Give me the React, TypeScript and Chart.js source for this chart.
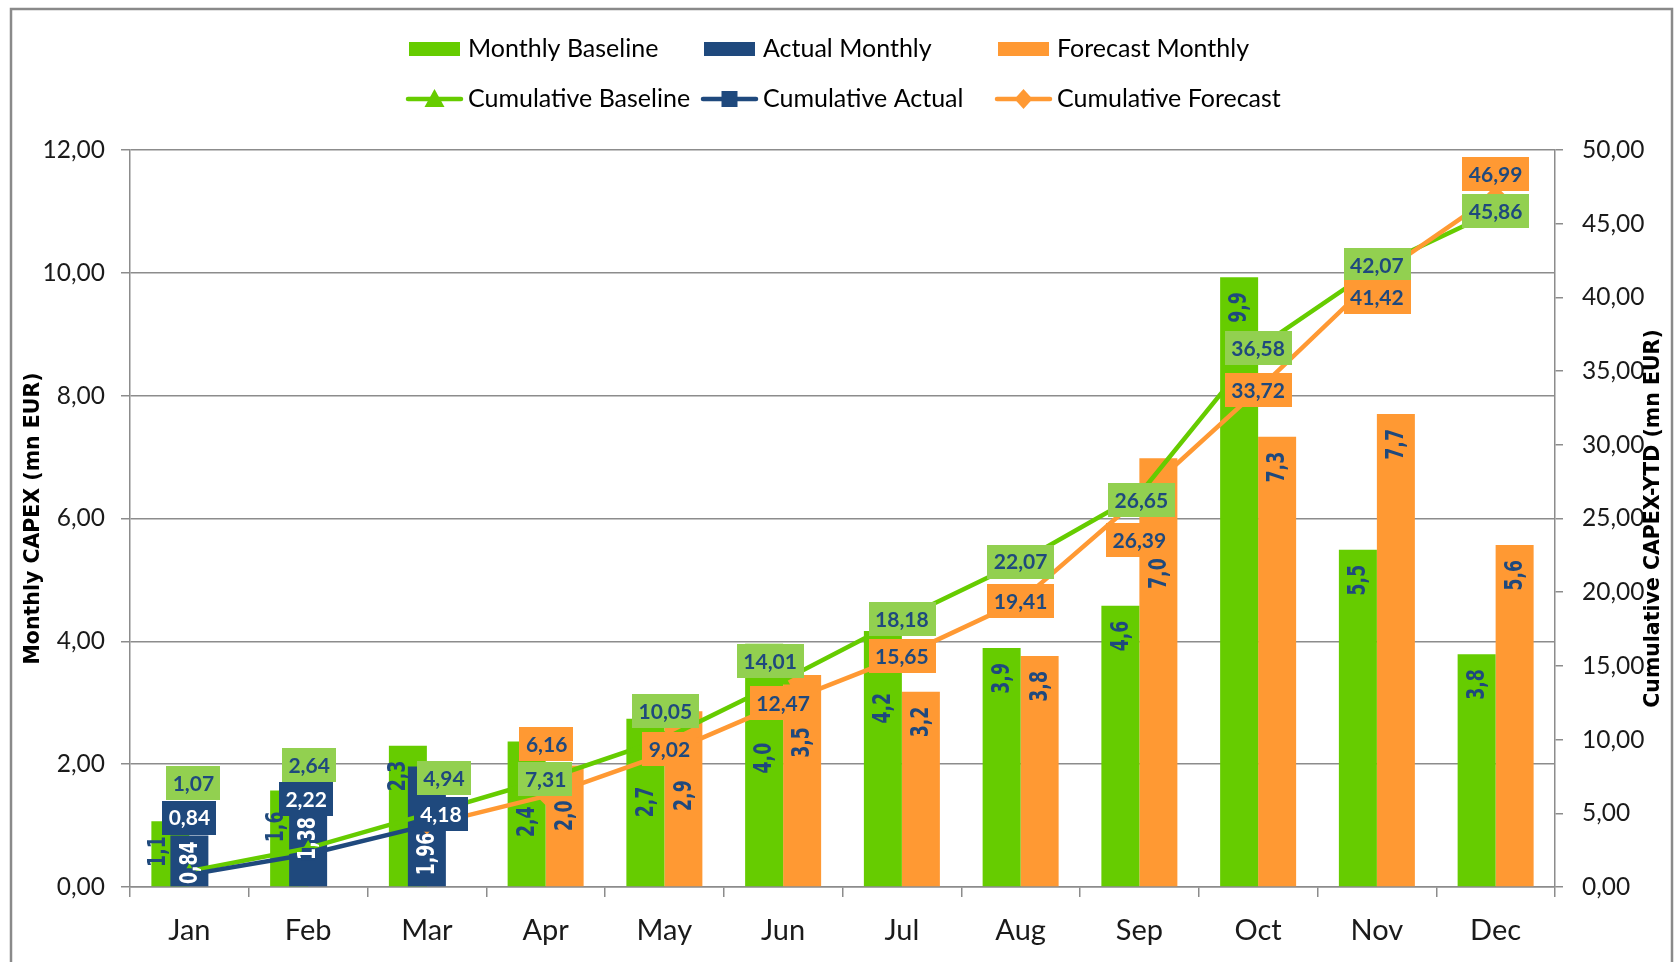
import React, { useEffect, useRef } from 'react';
import { Chart, registerables } from 'chart.js';

Chart.register(...registerables);

// ---------- data ----------
const months = ['Jan', 'Feb', 'Mar', 'Apr', 'May', 'Jun', 'Jul', 'Aug', 'Sep', 'Oct', 'Nov', 'Dec'];
const monthlyBaseline = [1.07, 1.57, 2.3, 2.37, 2.74, 3.96, 4.17, 3.89, 4.58, 9.93, 5.49, 3.79];
const actualMonthly = [0.84, 1.38, 1.96, null, null, null, null, null, null, null, null, null];
const forecastMonthly = [null, null, null, 1.98, 2.86, 3.45, 3.18, 3.76, 6.98, 7.33, 7.7, 5.57];
const cumulativeBaseline = [1.07, 2.64, 4.94, 7.31, 10.05, 14.01, 18.18, 22.07, 26.65, 36.58, 42.07, 45.86];
const cumulativeActual = [0.84, 2.22, 4.18, null, null, null, null, null, null, null, null, null];
const cumulativeForecast = [null, null, 4.18, 6.16, 9.02, 12.47, 15.65, 19.41, 26.39, 33.72, 41.42, 46.99];

const leftAxis = { min: 0, max: 12, step: 2 };
const rightAxis = { min: 0, max: 50, step: 5 };

// ---------- label nudges (px, relative to library-computed positions) ----------
const baselineBarNudgeX = [-13, -13, -10, 0, 0, 0, 0, 0, 0, 0, 0, 0];
const baselineBarNudgeY = [0, 6, 0, 50, 53, 84, 47, 0, 0, 0, 0, 0];
const actualBarNudgeY = [-9, 0, 51, 0, 0, 0, 0, 0, 0, 0, 0, 0];
const forecastBarNudgeY = [0, 0, 0, 20, 54, 37, 0, 0, 85, 0, 0, 0];
const cumBaselineNudge: ([number, number] | null)[] = [
  [4, -88], [1, -83], [17, -36], [0, 0], [1, -28], [-13, -19], [0, 0], [0, 0], [2, 6], [0, 0], [0, -2], [0, 0],
];
const cumActualNudge: ([number, number] | null)[] = [[0, -57], [-2, -55], [14, -11]];
const cumForecastNudge: ([number, number] | null)[] = [
  null, null, null, [1, -52], [5, -5], [0, 0], [0, 0], [0, 0], [0, 42], [0, 0], [0, 21], [0, -20],
];

// ---------- styles ----------
const GREEN = '#66CC00';
const ORANGE = '#FF9933';
const NAVY = '#1F497D';
const GREEN_BOX = '#92D050';
const LABEL_TEXT = '#1F497D';
const GRID = '#8C8C8C';
const FONT = 'Lato, "Noto Sans", sans-serif';
const VFONT = '"DejaVu Sans", Verdana, sans-serif';
const BAR_LABEL_SQUEEZE = 0.72;

const comma = (v: number, d: number) => v.toFixed(d).replace('.', ',');

const labelsPlugin = {
  id: 'capexLabels',
  afterDatasetsDraw(chart: any) {
    const ctx = chart.ctx as CanvasRenderingContext2D;
    ctx.save();
    // rotated bar labels (inside end)
    const barLabel = (dsIndex: number, color: string, decimals: number, nx: number[] | null, ny: number[]) => {
      const meta = chart.getDatasetMeta(dsIndex);
      const data = chart.data.datasets[dsIndex].data as (number | null)[];
      ctx.font = `bold 24px ${VFONT}`;
      ctx.fillStyle = color;
      ctx.textAlign = 'center';
      ctx.textBaseline = 'middle';
      meta.data.forEach((el: any, i: number) => {
        const v = data[i];
        if (v === null || v === undefined) return;
        const text = comma(v, decimals);
        const w = ctx.measureText(text).width * BAR_LABEL_SQUEEZE;
        const cx = el.x + (nx ? nx[i] : 0);
        const cy = el.y + 15 + w / 2 + ny[i];
        ctx.save();
        ctx.translate(cx, cy);
        ctx.rotate(-Math.PI / 2);
        ctx.scale(BAR_LABEL_SQUEEZE, 1);
        ctx.fillText(text, 0, 1);
        ctx.restore();
      });
    };
    barLabel(0, LABEL_TEXT, 1, baselineBarNudgeX, baselineBarNudgeY);
    barLabel(2, LABEL_TEXT, 1, null, forecastBarNudgeY);
    barLabel(1, '#FFFFFF', 2, null, actualBarNudgeY);

    // boxed line labels
    const boxLabel = (dsIndex: number, bg: string, fg: string, nudge: ([number, number] | null)[]) => {
      const meta = chart.getDatasetMeta(dsIndex);
      const data = chart.data.datasets[dsIndex].data as (number | null)[];
      ctx.font = `bold 21px ${FONT}`;
      ctx.textAlign = 'center';
      ctx.textBaseline = 'middle';
      meta.data.forEach((el: any, i: number) => {
        const v = data[i];
        const n = nudge[i];
        if (v === null || v === undefined || !n) return;
        const text = comma(v, 2);
        const w = ctx.measureText(text).width + 13;
        const h = 34;
        const cx = el.x + n[0];
        const cy = el.y + n[1];
        ctx.fillStyle = bg;
        ctx.fillRect(Math.round(cx - w / 2), Math.round(cy - h / 2), Math.round(w), h);
        ctx.fillStyle = fg;
        ctx.fillText(text, cx, cy + 1);
      });
    };
    boxLabel(3, GREEN_BOX, LABEL_TEXT, cumBaselineNudge);
    boxLabel(5, ORANGE, LABEL_TEXT, cumForecastNudge);
    boxLabel(4, NAVY, '#FFFFFF', cumActualNudge);
    ctx.restore();
  },
};

const framePlugin = {
  id: 'capexFrame',
  beforeDraw(chart: any) {
    const ctx = chart.ctx as CanvasRenderingContext2D;
    ctx.save();
    ctx.fillStyle = '#FFFFFF';
    ctx.fillRect(0, 0, chart.width, chart.height);
    ctx.strokeStyle = '#8A8A8A';
    ctx.lineWidth = 2.5;
    ctx.strokeRect(11, 9, 1661, 1000);
    ctx.restore();
  },
  afterDraw(chart: any) {
    const ctx = chart.ctx as CanvasRenderingContext2D;
    const area = chart.chartArea;
    ctx.save();
    // axis titles
    ctx.font = `bold 20.5px ${VFONT}`;
    ctx.fillStyle = '#000000';
    ctx.textAlign = 'center';
    ctx.textBaseline = 'middle';
    const midY = (area.top + area.bottom) / 2;
    ctx.save();
    ctx.translate(34, midY);
    ctx.rotate(-Math.PI / 2);
    ctx.fillText('Monthly CAPEX (mn EUR)', 0, 0);
    ctx.restore();
    ctx.save();
    ctx.translate(1654, midY);
    ctx.rotate(-Math.PI / 2);
    ctx.fillText('Cumulative CAPEX-YTD (mn EUR)', 0, 0);
    ctx.restore();

    // legend
    const cols = [409, 704, 998];
    const row1 = 49;
    const row2 = 99;
    const ds = chart.data.datasets;
    ctx.font = `25px ${FONT}`;
    ctx.textAlign = 'left';
    ctx.textBaseline = 'middle';
    const bars = [0, 1, 2];
    bars.forEach((d, k) => {
      ctx.fillStyle = ds[d].backgroundColor;
      ctx.fillRect(cols[k], row1 - 7, 51, 14);
      ctx.fillStyle = '#000000';
      ctx.fillText(ds[d].label, cols[k] + 59, row1);
    });
    const lines = [3, 4, 5];
    lines.forEach((d, k) => {
      const x0 = cols[k] - 1;
      const col = ds[d].borderColor;
      ctx.strokeStyle = col;
      ctx.lineWidth = 4.5;
      ctx.lineCap = 'round';
      ctx.beginPath();
      ctx.moveTo(x0, row2);
      ctx.lineTo(x0 + 53, row2);
      ctx.stroke();
      const mx = x0 + 26.5;
      ctx.fillStyle = col;
      ctx.beginPath();
      if (k === 0) {
        ctx.moveTo(mx, row2 - 10);
        ctx.lineTo(mx + 10, row2 + 8);
        ctx.lineTo(mx - 10, row2 + 8);
      } else if (k === 1) {
        ctx.rect(mx - 8, row2 - 8, 16, 16);
      } else {
        ctx.moveTo(mx, row2 - 10);
        ctx.lineTo(mx + 9, row2);
        ctx.lineTo(mx, row2 + 10);
        ctx.lineTo(mx - 9, row2);
      }
      ctx.closePath();
      ctx.fill();
      ctx.fillStyle = '#000000';
      ctx.fillText(ds[d].label, cols[k] + 59, row2);
    });
    ctx.restore();
  },
};

export default function App() {
  const canvasRef = useRef<HTMLCanvasElement | null>(null);

  useEffect(() => {
    if (!canvasRef.current) return;
    const yTickFont = { family: FONT, size: 24.5 };
    const xTickFont = { family: FONT, size: 29 };
    const chart = new Chart(canvasRef.current, {
      type: 'bar',
      data: {
        labels: months,
        datasets: [
          {
            type: 'bar',
            label: 'Monthly Baseline',
            data: monthlyBaseline,
            backgroundColor: GREEN,
            borderWidth: 0,
            categoryPercentage: 0.64,
            barPercentage: 1,
            yAxisID: 'y',
            order: 4,
          },
          {
            type: 'bar',
            label: 'Actual Monthly',
            data: actualMonthly,
            backgroundColor: NAVY,
            borderWidth: 0,
            grouped: false,
            categoryPercentage: 0.64,
            barPercentage: 0.5,
            yAxisID: 'y',
            order: 3,
          },
          {
            type: 'bar',
            label: 'Forecast Monthly',
            data: forecastMonthly,
            backgroundColor: ORANGE,
            borderWidth: 0,
            categoryPercentage: 0.64,
            barPercentage: 1,
            yAxisID: 'y',
            order: 4,
          },
          {
            type: 'line',
            label: 'Cumulative Baseline',
            data: cumulativeBaseline,
            borderColor: GREEN,
            backgroundColor: GREEN,
            borderWidth: 4.5,
            pointStyle: 'triangle',
            pointRadius: 8,
            pointBorderWidth: 0,
            tension: 0,
            yAxisID: 'y1',
            order: 2,
          },
          {
            type: 'line',
            label: 'Cumulative Actual',
            data: cumulativeActual,
            borderColor: NAVY,
            backgroundColor: NAVY,
            borderWidth: 4.5,
            pointStyle: 'rect',
            pointRadius: 9,
            pointBorderWidth: 0,
            tension: 0,
            yAxisID: 'y1',
            order: 0,
          },
          {
            type: 'line',
            label: 'Cumulative Forecast',
            data: cumulativeForecast,
            borderColor: ORANGE,
            backgroundColor: ORANGE,
            borderWidth: 4.5,
            pointStyle: 'rectRot',
            pointRadius: 9,
            pointBorderWidth: 0,
            tension: 0,
            yAxisID: 'y1',
            order: 1,
          },
        ] as any,
      },
      options: {
        animation: false,
        responsive: true,
        maintainAspectRatio: false,
        layout: { padding: { left: 0, right: 0, top: 150, bottom: 0 } },
        plugins: {
          legend: { display: false },
          tooltip: { enabled: false },
          title: { display: false },
        },
        scales: {
          x: {
            type: 'category',
            offset: true,
            grid: {
              offset: true,
              drawOnChartArea: false,
              drawTicks: true,
              tickLength: 10,
              color: GRID,
              lineWidth: 1.5,
            },
            border: { display: true, color: GRID, width: 1.5 },
            ticks: { font: xTickFont, color: '#1A1A1A', padding: 16, maxRotation: 0 },
            afterFit: (s: any) => {
              s.height = 75;
            },
          },
          y: {
            position: 'left',
            min: leftAxis.min,
            max: leftAxis.max,
            ticks: {
              stepSize: leftAxis.step,
              font: yTickFont,
              color: '#1A1A1A',
              padding: 16,
              callback: (v: any) => comma(Number(v), 2),
            },
            grid: { color: GRID, lineWidth: 1.5, tickLength: 9, drawTicks: true },
            border: { display: true, color: GRID, width: 1.5 },
            afterFit: (s: any) => {
              s.width = 130;
            },
          },
          y1: {
            position: 'right',
            min: rightAxis.min,
            max: rightAxis.max,
            ticks: {
              stepSize: rightAxis.step,
              font: yTickFont,
              color: '#1A1A1A',
              padding: 19,
              callback: (v: any) => comma(Number(v), 2),
            },
            grid: { drawOnChartArea: false, color: GRID, lineWidth: 1.5, tickLength: 8, drawTicks: true },
            border: { display: true, color: GRID, width: 1.5 },
            afterFit: (s: any) => {
              s.width = 124;
            },
          },
        },
      } as any,
      plugins: [framePlugin, labelsPlugin],
    });
    return () => chart.destroy();
  }, []);

  return (
    <div style={{ position: 'fixed', left: 0, top: 0, width: 1679, height: 962, background: '#FFFFFF' }}>
      <canvas ref={canvasRef} />
    </div>
  );
}
